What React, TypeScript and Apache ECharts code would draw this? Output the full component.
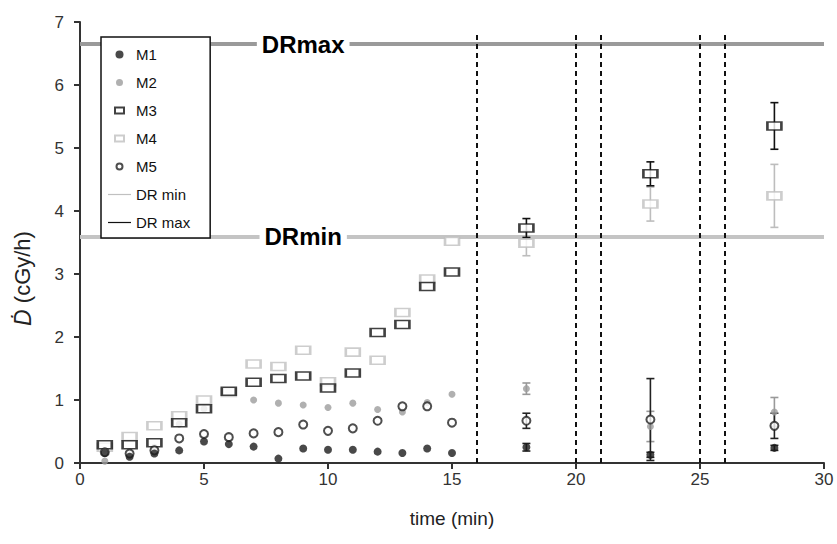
import React, { useEffect, useRef } from "react";
import * as echarts from "echarts";

const TIMES = [1, 2, 3, 4, 5, 6, 7, 8, 9, 10, 11, 12, 13, 14, 15, 18, 23, 28];
const M1 = [0.16, 0.1, 0.15, 0.2, 0.34, 0.3, 0.26, 0.07, 0.23, 0.21, 0.21, 0.18, 0.16, 0.23, 0.16, 0.25, 0.13, 0.24];
const M2 = [0.03, 0.13, 0.25, 0.62, 0.86, 1.13, 1.0, 0.95, 0.92, 0.88, 0.95, 0.85, 0.81, 0.96, 1.09, 1.18, 0.58, 0.81];
const M3 = [0.29, 0.29, 0.32, 0.64, 0.86, 1.14, 1.28, 1.34, 1.38, 1.19, 1.43, 2.07, 2.2, 2.8, 3.03, 3.73, 4.59, 5.35];
const M4 = [0.25, 0.42, 0.59, 0.75, 1.0, 1.12, 1.57, 1.53, 1.79, 1.29, 1.76, 1.63, 2.39, 2.92, 3.52, 3.49, 4.11, 4.24];
const M5 = [0.17, 0.15, 0.2, 0.39, 0.46, 0.41, 0.47, 0.49, 0.61, 0.51, 0.55, 0.67, 0.9, 0.9, 0.64, 0.67, 0.69, 0.59];

const ERR_TIMES = [18, 23, 28];
const M1_ERR = [0.06, 0.04, 0.04];
const M2_ERR = [0.09, 0.24, 0.23];
const M3_ERR = [0.15, 0.19, 0.37];
const M4_ERR = [0.2, 0.27, 0.5];
const M5_ERR = [0.12, 0.65, 0.2];

const DR_MIN = 3.59;
const DR_MAX = 6.65;
const DR_LABEL_T = 9;

const PHASE_NAMES = ["A", "B", "C", "D", "E", "F"];
const PHASE_TIMES = [16, 20, 21, 25, 26, 30];
const PHASE_LINE_TOP = 6.83;
const PHASE_LABEL_Y = 7.07;

const FONT = "'Liberation Sans', Arial, sans-serif";

const BOX = "M0,0M23,11";
const ICON_DISC = `path://${BOX}M7.5,5.5A4,4,0,1,1,15.5,5.5A4,4,0,1,1,7.5,5.5Z`;
const ICON_DOT = `path://${BOX}M8,5.5A3.5,3.5,0,1,1,15,5.5A3.5,3.5,0,1,1,8,5.5Z`;
const ICON_RECT = `path://${BOX}M7,2.5L16,2.5L16,8.5L7,8.5Z`;
const ICON_RING = `path://${BOX}M8.5,5.5A3,3,0,1,1,14.5,5.5A3,3,0,1,1,8.5,5.5Z`;
const ICON_LINE = `path://${BOX}M0,4.9L23,4.9L23,6.1L0,6.1Z`;

function pts(vals: number[]) {
  return TIMES.map((t, i) => [t, vals[i]]);
}

function errPts(vals: number[], errs: number[]) {
  return ERR_TIMES.map((t, i) => {
    const v = vals[TIMES.indexOf(t)];
    return [t, v - errs[i], v + errs[i]];
  });
}

function errSeries(name: string, vals: number[], errs: number[], color: string) {
  return {
    name,
    type: "custom",
    z: 1,
    data: errPts(vals, errs),
    renderItem: (_p: any, api: any) => {
      const t = api.value(0);
      const lo = api.coord([t, api.value(1)]);
      const hi = api.coord([t, api.value(2)]);
      const w = 4;
      const style = { stroke: color, lineWidth: 1.6 };
      return {
        type: "group",
        children: [
          { type: "line", shape: { x1: lo[0], y1: lo[1], x2: hi[0], y2: hi[1] }, style },
          { type: "line", shape: { x1: lo[0] - w, y1: lo[1], x2: lo[0] + w, y2: lo[1] }, style },
          { type: "line", shape: { x1: hi[0] - w, y1: hi[1], x2: hi[0] + w, y2: hi[1] }, style },
        ],
      };
    },
  };
}

function labelPoint(text: string, coord: number[], size: number) {
  return {
    z: 6,
    symbol: "rect",
    symbolSize: 1,
    itemStyle: { color: "rgba(0,0,0,0)" },
    label: {
      show: true,
      position: "inside",
      formatter: text,
      fontFamily: FONT,
      fontWeight: "bold",
      fontSize: size,
      color: "#000",
      backgroundColor: "#fff",
      padding: [0, 5],
    },
    data: [{ coord }],
  };
}

export default function App() {
  const ref = useRef<HTMLDivElement>(null);
  useEffect(() => {
    const chart = echarts.init(ref.current!, null, { renderer: "svg" });
    const option: any = {
      animation: false,
      backgroundColor: "#fff",
      grid: { left: 80, right: 13, top: 22, bottom: 81 },
      legend: {
        orient: "vertical",
        left: 101,
        top: 37,
        z: 8,
        backgroundColor: "#fff",
        borderColor: "#111",
        borderWidth: 1.5,
        borderRadius: 0,
        padding: [10, 20, 8, 6],
        itemWidth: 23,
        itemHeight: 11,
        itemGap: 13,
        textStyle: { fontFamily: FONT, fontSize: 15, color: "#111" },
        data: [
          { name: "M1", icon: ICON_DISC },
          { name: "M2", icon: ICON_DOT },
          { name: "M3", icon: ICON_RECT },
          { name: "M4", icon: ICON_RECT },
          { name: "M5", icon: ICON_RING },
          { name: "DR min", icon: ICON_LINE, itemStyle: { color: "#c0c0c0" } },
          { name: "DR max", icon: ICON_LINE, itemStyle: { color: "#111" } },
        ],
      },
      xAxis: {
        type: "value",
        min: 0,
        max: 30,
        interval: 5,
        name: "time (min)",
        nameLocation: "middle",
        nameGap: 46,
        nameTextStyle: { fontFamily: FONT, fontSize: 19, color: "#222" },
        axisLine: { lineStyle: { color: "#333", width: 2 } },
        axisTick: { show: true, length: 6, lineStyle: { color: "#333", width: 2 } },
        axisLabel: { fontFamily: FONT, fontSize: 17, color: "#333", margin: 8 },
        splitLine: { show: false },
      },
      yAxis: {
        type: "value",
        min: 0,
        max: 7,
        interval: 1,
        name: "{d|Ḋ} (cGy/h)",
        nameLocation: "middle",
        nameGap: 46,
        nameTextStyle: {
          fontFamily: FONT,
          fontSize: 22,
          color: "#222",
          padding: [0, 72, 0, 0],
          rich: { d: { fontFamily: FONT, fontSize: 23, fontStyle: "italic", color: "#222" } },
        },
        axisLine: { show: true, lineStyle: { color: "#333", width: 2 } },
        axisTick: { show: true, length: 6, lineStyle: { color: "#333", width: 2 } },
        axisLabel: { fontFamily: FONT, fontSize: 17, color: "#333", margin: 16 },
        splitLine: { show: false },
      },
      series: [
        {
          name: "DR min",
          type: "line",
          data: [],
          symbol: "none",
          color: "#c0c0c0",
          z: 0,
          markLine: {
            z: 1,
            silent: true,
            symbol: "none",
            label: { show: false },
            lineStyle: { color: "#c4c4c4", width: 4, type: "solid" },
            data: [{ yAxis: DR_MIN }],
          },
          markPoint: labelPoint("DRmin", [DR_LABEL_T, DR_MIN], 24),
        },
        {
          name: "DR max",
          type: "line",
          data: [],
          symbol: "none",
          color: "#111",
          z: 0,
          markLine: {
            z: 1,
            silent: true,
            symbol: "none",
            label: { show: false },
            lineStyle: { color: "#9a9a9a", width: 4, type: "solid" },
            data: [{ yAxis: DR_MAX }],
          },
          markPoint: labelPoint("DRmax", [DR_LABEL_T, DR_MAX], 24),
        },
        {
          name: "phases",
          type: "line",
          data: [],
          symbol: "none",
          clip: false,
          markLine: {
            z: 1,
            silent: true,
            symbol: "none",
            label: { show: false },
            lineStyle: { color: "#111", width: 2, type: [5, 4] },
            data: PHASE_TIMES.slice(0, 5).map((t) => [{ coord: [t, 0] }, { coord: [t, PHASE_LINE_TOP] }]),
          },
          markPoint: {
            z: 6,
            symbol: "rect",
            symbolSize: 1,
            itemStyle: { color: "rgba(0,0,0,0)" },
            label: {
              show: true,
              position: "inside",
              formatter: "{b}",
              fontFamily: FONT,
              fontWeight: "bold",
              fontSize: 23,
              color: "#000",
            },
            data: PHASE_TIMES.map((t, i) => ({ name: PHASE_NAMES[i], coord: [t, PHASE_LABEL_Y] })),
          },
        },
        errSeries("M2 err", M2, M2_ERR, "#999"),
        errSeries("M4 err", M4, M4_ERR, "#bdbdbd"),
        errSeries("M3 err", M3, M3_ERR, "#111"),
        errSeries("M5 err", M5, M5_ERR, "#222"),
        errSeries("M1 err", M1, M1_ERR, "#222"),
        {
          name: "M2",
          type: "scatter",
          z: 3,
          data: pts(M2),
          symbol: "circle",
          symbolSize: 7,
          itemStyle: { color: "#9c9c9c" },
        },
        {
          name: "M4",
          type: "scatter",
          z: 3,
          data: pts(M4),
          symbol: "rect",
          symbolSize: [14, 8],
          itemStyle: { color: "#fff", borderColor: "#c0c0c0", borderWidth: 2 },
        },
        {
          name: "M3",
          type: "scatter",
          z: 4,
          data: pts(M3),
          symbol: "rect",
          symbolSize: [14, 8],
          itemStyle: { color: "#fff", borderColor: "#111", borderWidth: 2 },
        },
        {
          name: "M5",
          type: "scatter",
          z: 5,
          data: pts(M5),
          symbol: "circle",
          symbolSize: 8,
          itemStyle: { color: "#fff", borderColor: "#222", borderWidth: 2 },
        },
        {
          name: "M1",
          type: "scatter",
          z: 5,
          data: pts(M1),
          symbol: "circle",
          symbolSize: 8,
          itemStyle: { color: "#1c1c1c" },
        },
      ],
    };
    chart.setOption(option);
    return () => chart.dispose();
  }, []);
  return <div ref={ref} style={{ position: "fixed", left: 0, top: 0, width: 837, height: 544 }} />;
}
